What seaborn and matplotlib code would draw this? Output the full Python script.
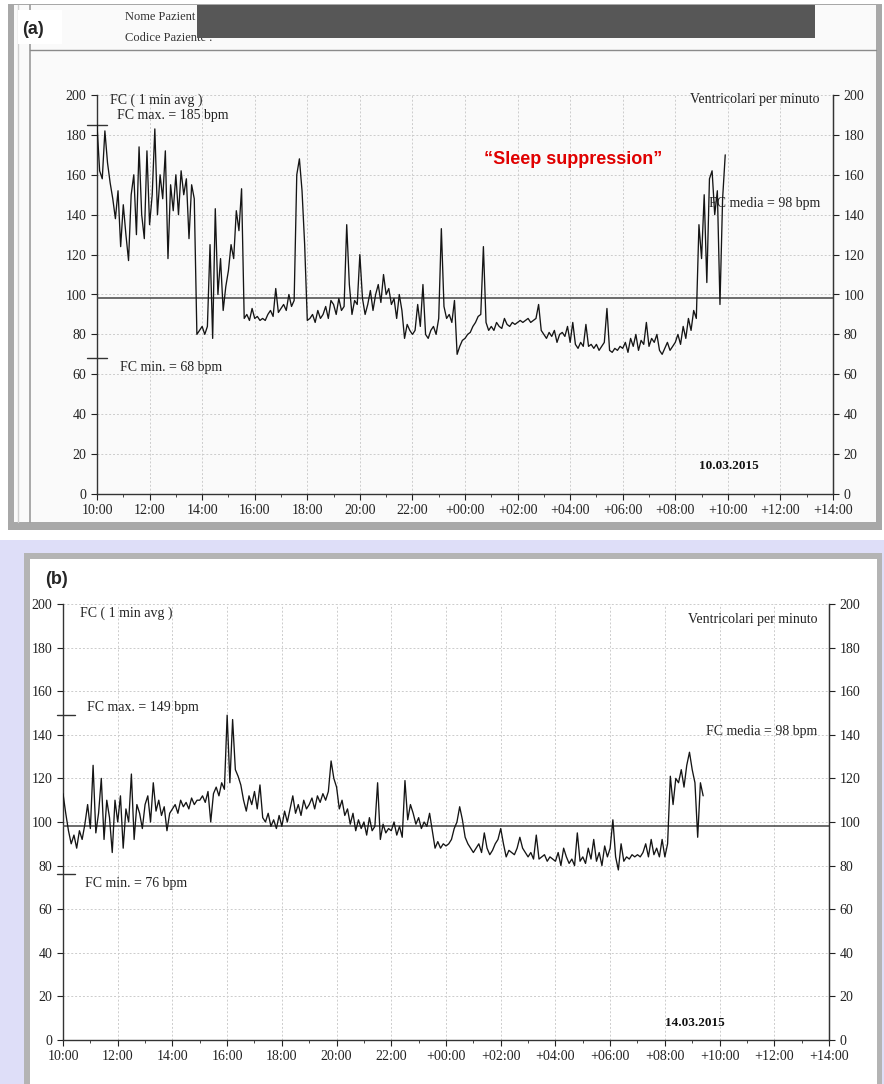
import numpy as np
import pandas as pd
import matplotlib
matplotlib.use("Agg")
import matplotlib.pyplot as plt
from matplotlib.patches import Rectangle
from matplotlib.lines import Line2D
import seaborn as sns

# heart rate (bpm), one value every 6 min, one list per hour starting 10:00
# (a) 10.03.2015
a_10_14 = [185, 162, 158, 182, 166, 156, 148, 138, 152, 124,
           145, 130, 117, 150, 160, 130, 174, 140, 128, 172,
           135, 150, 183, 140, 160, 148, 172, 118, 155, 142,
           160, 140, 162, 150, 158, 128, 155, 148, 80, 82]
a_14_18 = [84, 80, 84, 125, 78, 143, 100, 118, 92, 104,
           112, 125, 118, 142, 132, 153, 88, 90, 87, 93,
           88, 89, 87, 88, 87, 90, 92, 89, 103, 91,
           93, 95, 92, 100, 94, 97, 160, 168, 152, 125]
a_18_24 = [87, 88, 90, 86, 92, 88, 90, 94, 88, 97,
           95, 90, 98, 92, 94, 135, 105, 90, 97, 95,
           120, 98, 90, 95, 102, 92, 100, 105, 96, 110,
           100, 103, 95, 98, 88, 100, 92, 78, 85, 82,
           80, 82, 95, 84, 105, 80, 78, 82, 84, 80,
           88, 133, 94, 88, 90, 86, 97, 70, 74, 77]
a_00_06 = [78, 80, 81, 84, 86, 89, 90, 124, 86, 82,
           84, 82, 86, 84, 83, 88, 85, 84, 86, 85,
           86, 87, 86, 87, 88, 86, 87, 88, 95, 82,
           80, 78, 81, 79, 82, 76, 80, 81, 79, 84,
           76, 86, 75, 73, 76, 74, 85, 74, 75, 73,
           75, 72, 74, 76, 93, 72, 71, 73, 72, 74]
a_06_10 = [73, 76, 71, 78, 74, 80, 72, 77, 75, 86,
           74, 78, 76, 80, 72, 70, 73, 76, 72, 74,
           76, 80, 75, 84, 78, 88, 82, 92, 88, 135,
           118, 150, 106, 158, 162, 140, 152, 95, 148, 170]

# (b) 14.03.2015
b_10_14 = [113, 104, 96, 90, 94, 88, 96, 92, 99, 108,
           97, 126, 95, 104, 120, 92, 110, 102, 86, 110,
           100, 112, 88, 106, 100, 122, 92, 108, 104, 97,
           108, 112, 100, 118, 105, 110, 103, 107, 96, 104]
b_14_18 = [106, 108, 104, 110, 107, 109, 106, 111, 108, 110,
           110, 112, 109, 114, 100, 113, 116, 112, 118, 115,
           149, 118, 147, 124, 121, 117, 110, 105, 112, 108,
           114, 106, 117, 102, 100, 104, 98, 101, 97, 103]
b_18_24 = [98, 105, 100, 106, 112, 104, 108, 103, 110, 106,
           108, 111, 106, 112, 109, 113, 110, 114, 128, 120,
           116, 106, 110, 103, 106, 99, 104, 96, 101, 97,
           100, 94, 102, 96, 98, 118, 92, 99, 95, 97,
           96, 100, 94, 98, 93, 119, 101, 108, 104, 99,
           102, 97, 100, 98, 104, 96, 88, 91, 88, 90]
b_00_06 = [89, 90, 92, 97, 100, 107, 101, 93, 90, 88,
           86, 88, 90, 86, 95, 88, 85, 87, 90, 92,
           97, 90, 84, 87, 86, 85, 88, 93, 88, 86,
           84, 86, 83, 94, 83, 84, 85, 82, 84, 83,
           82, 86, 80, 88, 84, 81, 83, 80, 95, 82,
           84, 81, 88, 83, 92, 82, 86, 80, 89, 84]
b_06_10 = [88, 101, 84, 78, 90, 82, 84, 83, 85, 84,
           85, 84, 86, 90, 84, 92, 85, 88, 84, 92,
           84, 90, 121, 108, 120, 118, 124, 116, 126, 132,
           124, 118, 93, 118, 112]

hour_labels = ["10:00", "12:00", "14:00", "16:00", "18:00", "20:00", "22:00",
               "+00:00", "+02:00", "+04:00", "+06:00", "+08:00", "+10:00",
               "+12:00", "+14:00"]

panels = [
    dict(hr=a_10_14 + a_14_18 + a_18_24 + a_00_06 + a_06_10,
         fc_max=185, fc_min=68, fc_mean=98, date="10.03.2015"),
    dict(hr=b_10_14 + b_14_18 + b_18_24 + b_00_06 + b_06_10,
         fc_max=149, fc_min=76, fc_mean=98, date="14.03.2015"),
]

sns.set_style("white")
plt.rcParams["font.family"] = ["Liberation Serif", "DejaVu Serif"]

W, H = 884, 1084
fig = plt.figure(figsize=(W / 100, H / 100), dpi=100)


def fx(x):
    return x / W


def fy(y):
    return 1 - y / H


def frect(x0, y0, x1, y1, **kw):
    fig.patches.append(Rectangle((fx(x0), fy(y1)), fx(x1) - fx(x0), fy(y0) - fy(y1),
                                 transform=fig.transFigure, **kw))


def fline(xs, ys, **kw):
    fig.lines.append(Line2D([fx(v) for v in xs], [fy(v) for v in ys],
                            transform=fig.transFigure, **kw))


# scanned page (a)
frect(8, 4, 882, 530, facecolor="#a8a8a8", edgecolor="none", zorder=-5)
frect(14, 5, 876, 522, facecolor="#fafafa", edgecolor="none", zorder=-4)
fline([30, 30], [5, 522], color="#9a9a9a", lw=1.2, zorder=-3)
fline([18, 18], [5, 522], color="#cfcfcf", lw=1.0, zorder=-3)
fline([30, 876], [50, 50], color="#8a8a8a", lw=1.0, zorder=-3)
fig.text(fx(125), fy(17), "Nome Pazient", fontsize=9, va="center", color="#333")
fig.text(fx(125), fy(38), "Codice Paziente .", fontsize=9, va="center", color="#333")
frect(197, 5, 815, 38, facecolor="#575757", edgecolor="none", zorder=5)
frect(18, 10, 62, 44, facecolor="white", edgecolor="none", zorder=4)
fig.text(fx(22), fy(29), "(a)", fontsize=13, fontweight="bold", va="center",
         family="Liberation Sans", zorder=6)

# scanned page (b)
frect(0, 540, 884, 1084, facecolor="#dedef8", edgecolor="none", zorder=-5)
frect(24, 553, 882, 1084, facecolor="#b4b4b4", edgecolor="none", zorder=-4)
frect(30, 559, 877, 1084, facecolor="white", edgecolor="none", zorder=-3)
fig.text(fx(45), fy(580), "(b)", fontsize=13, fontweight="bold", va="center",
         family="Liberation Sans")

boxes = [(97, 95, 833, 494), (63, 604, 829, 1040)]
texts = [
    dict(avg=(110, 100), mx=(117, 115), mn=(120, 367), vent=(820, 100),
         media=(820, 204), date=(729, 466), tick=(-0.38, 0.38)),
    dict(avg=(80, 613), mx=(87, 707), mn=(85, 883), vent=(818, 619),
         media=(817, 732), date=(695, 1023), tick=(-0.22, 0.44)),
]

for p, (x0, y0, x1, y1), tx in zip(panels, boxes, texts):
    ax = fig.add_axes([fx(x0), fy(y1), fx(x1) - fx(x0), fy(y0) - fy(y1)])
    ax.set_facecolor("none")
    df = pd.DataFrame({"t": np.arange(len(p["hr"])) / 10, "hr": p["hr"]})
    ax.set_xlim(0, 28)
    ax.set_ylim(0, 200)
    ax.set_xticks(range(0, 29, 2))
    ax.set_xticks(range(0, 29, 1), minor=True)
    ax.set_xticklabels(hour_labels)
    ax.set_yticks(range(0, 201, 20))
    ax.grid(True, color="#cccccc", linestyle=(0, (2, 2)), lw=0.7)
    ax.axhline(p["fc_mean"], color="#444444", lw=1.1, zorder=3)
    sns.lineplot(data=df, x="t", y="hr", ax=ax, color="#151515", lw=0.95,
                 zorder=4)
    ax.plot(tx["tick"], [p["fc_max"]] * 2, color="#333", lw=1, clip_on=False)
    ax.plot(tx["tick"], [p["fc_min"]] * 2, color="#333", lw=1, clip_on=False)
    ax.set_xlabel("")
    ax.set_ylabel("")
    ax.spines["top"].set_visible(False)
    for s in ["left", "right", "bottom"]:
        ax.spines[s].set_color("#333")
        ax.spines[s].set_linewidth(1)
    ax.tick_params(axis="both", which="major", direction="out", length=4,
                   width=0.8, labelsize=10, colors="#222", left=True, bottom=True)
    ax.tick_params(axis="x", which="minor", direction="out", length=2,
                   width=0.6, bottom=True)
    ax2 = ax.twinx()
    ax2.set_ylim(0, 200)
    ax2.set_yticks(range(0, 201, 20))
    ax2.tick_params(axis="y", direction="out", length=4, width=0.8,
                    labelsize=10, colors="#222", right=True)
    for s in ["top", "left", "bottom"]:
        ax2.spines[s].set_visible(False)
    ax2.spines["right"].set_color("#333")

    fig.text(fx(tx["avg"][0]), fy(tx["avg"][1]), "FC ( 1 min avg )", fontsize=10,
             va="center", color="#222")
    fig.text(fx(tx["mx"][0]), fy(tx["mx"][1]), f"FC max. = {p['fc_max']} bpm",
             fontsize=10, va="center", color="#222")
    fig.text(fx(tx["mn"][0]), fy(tx["mn"][1]), f"FC min. = {p['fc_min']} bpm",
             fontsize=10, va="center", color="#222")
    fig.text(fx(tx["vent"][0]), fy(tx["vent"][1]), "Ventricolari per minuto",
             fontsize=10, va="center", ha="right", color="#222")
    fig.text(fx(tx["media"][0]), fy(tx["media"][1]), f"FC media = {p['fc_mean']} bpm",
             fontsize=10, va="center", ha="right", color="#222", zorder=0)
    fig.text(fx(tx["date"][0]), fy(tx["date"][1]), p["date"], fontsize=9.5,
             fontweight="bold", va="center", ha="center", color="#111")

fig.text(fx(573), fy(160), "\u201cSleep suppression\u201d", fontsize=13,
         fontweight="bold", color="#e00000", ha="center", va="center",
         family="Liberation Sans")

fig.savefig("out.png", dpi=100)
